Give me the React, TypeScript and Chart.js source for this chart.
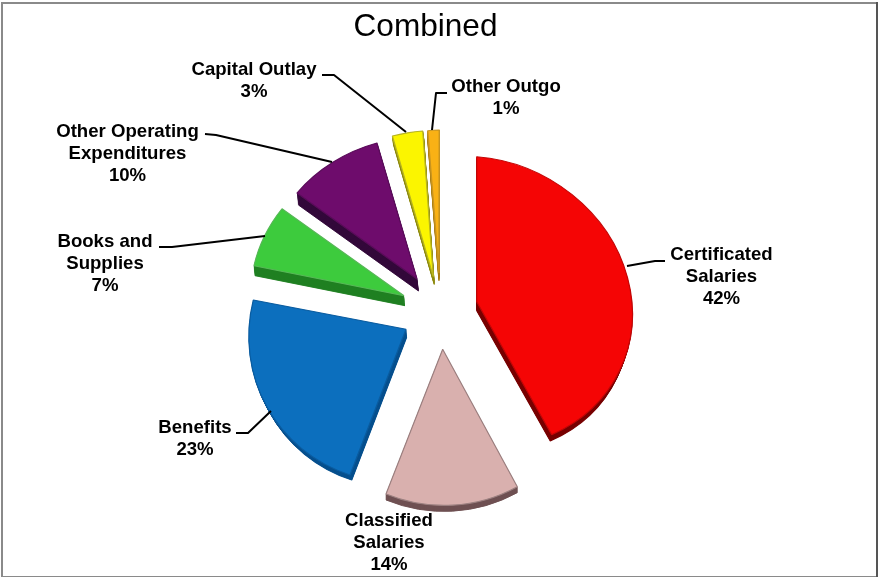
import React, { useEffect, useRef } from "react";
import { Chart, registerables } from "chart.js";

Chart.register(...registerables);

const WIDTH = 878;
const HEIGHT = 577;
const FONT = '"Liberation Sans", Arial, sans-serif';

const chartTitle = "Combined";
const categories = [
  "Certificated Salaries",
  "Classified Salaries",
  "Benefits",
  "Books and Supplies",
  "Other Operating Expenditures",
  "Capital Outlay",
  "Other Outgo",
];
const shares = [42, 14, 23, 7, 10, 3, 1];

const faceColors = ["#F50505", "#D9B0AE", "#0C6FBE", "#3DCB3D", "#6E0C6C", "#FBF500", "#F9B115"];
const edgeColors = ["#C40606", "#9C8080", "#0A5CA0", "#58B858", "#5A0C5A", "#B8B420", "#C89420"];
const sideColors = ["#780000", "#6F5052", "#07508E", "#1F8021", "#33083A", "#8D8A10", "#A87B10"];

// Screen position of each exploded wedge's tip, in pixels.
const wedgeTips: [number, number][] = [
  [476.7, 301.7],
  [442.7, 349.3],
  [406, 329.3],
  [404, 295.7],
  [417, 279],
  [433.3, 276.7],
  [439, 273],
];
// Perspective of each wedge: where the pie's x and y unit axes land on screen.
const wedgeAxes: [number, number, number, number][] = [
  [155.7, 12.3, 0, 145],
  [154.5, 1.2, 0.2, 156.1],
  [157.2, -9.1, 2, 153.1],
  [153.3, -5.9, 6.1, 143.6],
  [154.4, -5.8, 1.7, 141.9],
  [163.5, -3.7, 0.3, 146.2],
  [184.7, -6.4, -0.3, 143],
];
// Direction and length of each wedge's extruded side wall.
const wedgeDepths: [number, number][] = [
  [0, 9],
  [0, 6],
  [0.7, 8],
  [1, 10],
  [1.5, 12],
  [1, 8],
  [0, 8],
];
// How much the far end of a side wall narrows toward the wedge tip.
const wallTaper = [0.02, 0, 0.02, 0, 0, 0, 0];

const labelLines = [
  ["Certificated", "Salaries"],
  ["Classified", "Salaries"],
  ["Benefits"],
  ["Books and", "Supplies"],
  ["Other Operating", "Expenditures"],
  ["Capital Outlay"],
  ["Other Outgo"],
];
const labelCenters: [number, number][] = [
  [721.5, 255],
  [389, 521],
  [195, 428],
  [105, 242],
  [127.5, 132],
  [254, 70],
  [506, 87],
];
const leaderLines: [number, number][][] = [
  [[627, 266], [655, 261], [665, 261]],
  [],
  [[236, 433], [248, 433], [271, 411]],
  [[159, 247], [172, 247], [265, 236]],
  [[205, 134], [216, 135], [332, 162]],
  [[322, 75], [334, 75], [406, 132]],
  [[447, 93], [436, 93], [432, 130]],
];

const explodedPie = {
  id: "explodedPie",
  beforeDatasetDraw(chart: any) {
    const { ctx } = chart;
    const arcs = chart.getDatasetMeta(0).data;
    arcs.forEach((arc: any, i: number) => {
      const [tx, ty] = wedgeTips[i];
      const [ax, ay, bx, by] = wedgeAxes[i];
      const [dx, dy] = wedgeDepths[i];
      const unit = 1 / arc.outerRadius;
      const place = (ox: number, oy: number, shrink: number) => {
        const k = unit * (1 - shrink);
        ctx.translate(tx + ox, ty + oy);
        ctx.transform(ax * k, ay * k, bx * k, by * k, 0, 0);
        ctx.translate(-arc.x, -arc.y);
      };
      const faceOptions = arc.options;
      const steps = Math.ceil(Math.hypot(dx, dy));
      arc.options = { ...faceOptions, backgroundColor: sideColors[i], borderColor: sideColors[i], borderWidth: 1 };
      for (let s = steps; s >= 1; s--) {
        const f = s / steps;
        ctx.save();
        place(dx * f, dy * f, wallTaper[i] * f);
        arc.draw(ctx);
        ctx.restore();
      }
      arc.options = faceOptions;
      ctx.save();
      place(0, 0, 0);
      arc.draw(ctx);
      ctx.restore();
    });
    return false;
  },
  afterDraw(chart: any) {
    const { ctx } = chart;
    ctx.save();

    ctx.fillStyle = "#000000";
    ctx.textAlign = "center";
    ctx.textBaseline = "middle";
    ctx.font = `31.6px ${FONT}`;
    ctx.fillText(chartTitle, 425.5, 27);

    ctx.strokeStyle = "#000000";
    ctx.lineWidth = 2;
    ctx.lineJoin = "round";
    leaderLines.forEach((points) => {
      if (!points.length) return;
      ctx.beginPath();
      points.forEach(([x, y], k) => (k ? ctx.lineTo(x, y) : ctx.moveTo(x, y)));
      ctx.stroke();
    });

    ctx.font = `bold 18.6px ${FONT}`;
    categories.forEach((_, i) => {
      const [x, y] = labelCenters[i];
      [...labelLines[i], `${shares[i]}%`].forEach((line, k) => {
        ctx.fillText(line, x, y + k * 21.8);
      });
    });

    // Picture frame around the whole chart
    ctx.fillStyle = "#8A8A8A";
    ctx.fillRect(1, 2, WIDTH - 2, 2);
    ctx.fillRect(1, 2, 2, HEIGHT - 3);
    ctx.fillRect(1, HEIGHT - 1, WIDTH - 2, 1);
    ctx.fillStyle = "#555555";
    ctx.fillRect(WIDTH - 2, 2, 2, HEIGHT - 2);
    ctx.restore();
  },
};

export default function App() {
  const canvasRef = useRef<HTMLCanvasElement>(null);

  useEffect(() => {
    const chart = new Chart(canvasRef.current!, {
      type: "pie",
      data: {
        labels: categories,
        datasets: [
          {
            data: shares,
            backgroundColor: faceColors,
            borderColor: edgeColors,
            borderWidth: 1.2,
          },
        ],
      },
      options: {
        responsive: false,
        animation: false,
        layout: { padding: 130 },
        plugins: {
          legend: { display: false },
          title: { display: false },
          tooltip: { enabled: false },
        },
      },
      plugins: [explodedPie],
    } as any);
    return () => chart.destroy();
  }, []);

  return (
    <div style={{ position: "absolute", left: 0, top: 0, width: WIDTH, height: HEIGHT, background: "#ffffff" }}>
      <canvas ref={canvasRef} width={WIDTH} height={HEIGHT} style={{ display: "block" }} />
    </div>
  );
}
